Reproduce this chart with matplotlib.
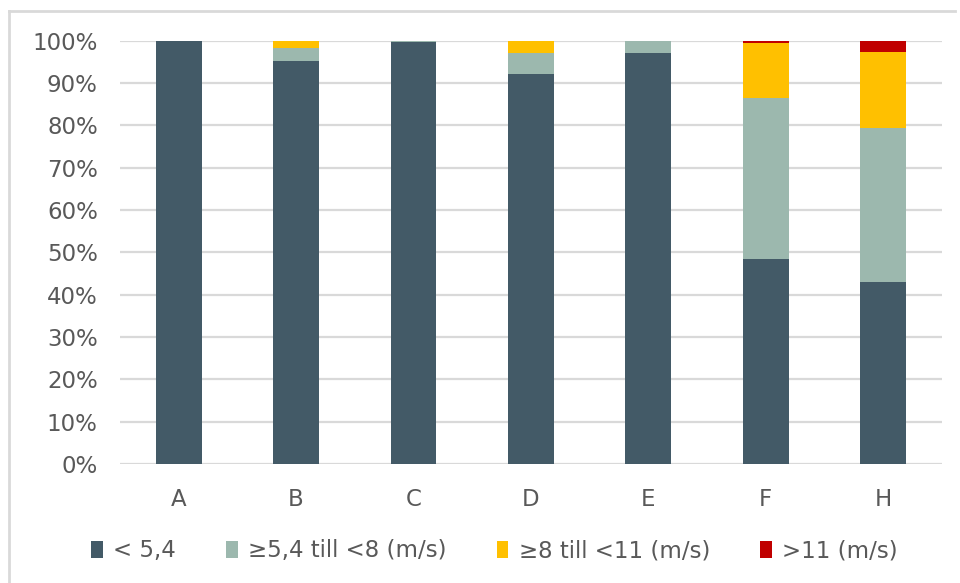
import matplotlib
matplotlib.use("Agg")
import matplotlib.pyplot as plt
from matplotlib.lines import Line2D
from matplotlib.ticker import FuncFormatter

categories = ["A", "B", "C", "D", "E", "F", "H"]
below_5_4 = [100.0, 95.3, 99.8, 92.2, 97.1, 48.5, 43.0]
from_5_4_to_8 = [0.0, 2.9, 0.2, 4.9, 2.9, 38.0, 36.4]
from_8_to_11 = [0.0, 1.8, 0.0, 2.9, 0.0, 13.0, 17.9]
above_11 = [0.0, 0.0, 0.0, 0.0, 0.0, 0.5, 2.7]

series_labels = ["< 5,4", "≥5,4 till <8 (m/s)", "≥8 till <11 (m/s)", ">11 (m/s)"]
series_colors = ["#435A67", "#9CB8AE", "#FFC000", "#C00000"]

fig = plt.figure(figsize=(9.6, 5.83), dpi=100)
ax = fig.add_axes([0.125, 0.204, 0.856, 0.726])

x = range(len(categories))
bottom = [0.0] * len(categories)
for vals, lab, col in zip([below_5_4, from_5_4_to_8, from_8_to_11, above_11],
                          series_labels, series_colors):
    ax.bar(x, vals, width=0.39, bottom=bottom, color=col, label=lab, zorder=3)
    bottom = [b + v for b, v in zip(bottom, vals)]

ax.set_xlim(-0.5, len(categories) - 0.5)
ax.set_ylim(0, 100)
ax.set_yticks(range(0, 101, 10))
ax.yaxis.set_major_formatter(FuncFormatter(lambda v, p: f"{int(v)}%"))
ax.set_xticks(list(x))
ax.set_xticklabels(categories)
ax.grid(axis="y", color="#D9D9D9", linewidth=1.6, zorder=0)
for s in ax.spines.values():
    s.set_visible(False)
ax.tick_params(axis="both", length=0, labelsize=16.5, colors="#595959")
ax.tick_params(axis="y", pad=16)
ax.tick_params(axis="x", pad=17)

leg = fig.legend(loc="lower center", bbox_to_anchor=(0.515, 0.0), ncol=4,
                 frameon=False, fontsize=16.5, handlelength=0.5, handleheight=0.8,
                 handletextpad=0.45, columnspacing=2.2, labelcolor="#595959")

# chart frame: left and top edges
fig.add_artist(Line2D([0.0095, 0.0095], [0.0, 0.981], transform=fig.transFigure,
                      color="#D9D9D9", linewidth=2.0))
fig.add_artist(Line2D([0.0095, 0.995], [0.981, 0.981], transform=fig.transFigure,
                      color="#D9D9D9", linewidth=2.0))

fig.savefig("out.png", dpi=100)
